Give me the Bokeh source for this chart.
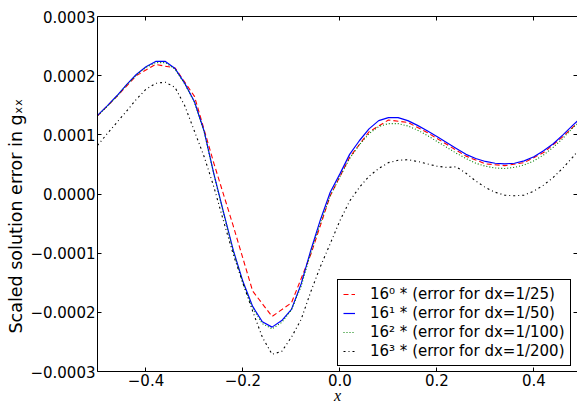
import numpy as np
from bokeh.plotting import figure
from bokeh.models import (LinearAxis, FixedTicker, CustomJSTickFormatter, Legend,
                          LegendItem, Range1d, Title)
from bokeh.embed import file_html
from bokeh.resources import INLINE

# ---------------- data (errors in units of 1e-4) ----------------
UNIT = 1e-4

x_coarse = [-0.50, -0.46, -0.42, -0.38, -0.34, -0.30, -0.26, -0.22, -0.18, -0.14,
            -0.10, -0.06, -0.02, 0.02, 0.06, 0.10, 0.14, 0.18, 0.22, 0.26,
            0.30, 0.34, 0.38, 0.42, 0.46, 0.50]

x_fine = [-0.50, -0.48, -0.46, -0.44, -0.42, -0.40, -0.38, -0.36, -0.34, -0.32,
          -0.30, -0.28, -0.26, -0.24, -0.22, -0.20, -0.18, -0.16, -0.14, -0.12,
          -0.10, -0.08, -0.06, -0.04, -0.02, 0.00, 0.02, 0.04, 0.06, 0.08,
          0.10, 0.12, 0.14, 0.16, 0.18, 0.20, 0.22, 0.24, 0.26, 0.28,
          0.30, 0.32, 0.34, 0.36, 0.38, 0.40, 0.42, 0.44, 0.46, 0.48, 0.50]

err_dx25 = [1.32, 1.65, 2.00, 2.19, 2.13, 1.65, 0.52, -0.54, -1.64, -2.07,
            -1.84, -1.02, -0.03, 0.62, 1.05, 1.25, 1.21, 1.04, 0.84, 0.64,
            0.51, 0.48, 0.53, 0.70, 0.97, 1.28]

err_dx50 = [1.33, 1.49, 1.66, 1.85, 2.02, 2.15, 2.24, 2.24, 2.12, 1.87,
            1.56, 1.06, 0.34, -0.31, -0.95, -1.48, -1.90, -2.16, -2.25, -2.14,
            -1.95, -1.52, -0.95, -0.43, 0.03, 0.34, 0.67, 0.90, 1.10, 1.24,
            1.29, 1.29, 1.24, 1.16, 1.07, 0.97, 0.87, 0.77, 0.67, 0.60,
            0.55, 0.52, 0.51, 0.52, 0.56, 0.63, 0.73, 0.85, 1.00, 1.16, 1.31]

err_dx100 = [1.32, 1.48, 1.65, 1.84, 2.01, 2.14, 2.22, 2.22, 2.11, 1.86,
             1.55, 1.05, 0.33, -0.33, -0.97, -1.51, -1.93, -2.19, -2.28, -2.17,
             -1.96, -1.56, -0.99, -0.48, -0.03, 0.29, 0.60, 0.83, 1.02, 1.14,
             1.19, 1.19, 1.15, 1.08, 0.99, 0.89, 0.79, 0.69, 0.60, 0.52,
             0.47, 0.44, 0.43, 0.45, 0.49, 0.56, 0.66, 0.79, 0.94, 1.12, 1.25]

err_dx200 = [0.82, 1.02, 1.21, 1.40, 1.60, 1.77, 1.87, 1.89, 1.80, 1.49,
             1.06, 0.63, 0.12, -0.46, -1.02, -1.51, -1.98, -2.42, -2.71, -2.66,
             -2.42, -2.12, -1.65, -1.22, -0.84, -0.45, -0.12, 0.11, 0.30, 0.43,
             0.53, 0.57, 0.58, 0.55, 0.51, 0.47, 0.45, 0.46, 0.35, 0.22,
             0.11, 0.03, -0.02, -0.03, -0.02, 0.05, 0.15, 0.28, 0.44, 0.62, 0.82]

labels = ["16\u2070 * (error for dx=1/25)",
          "16\u00b9 * (error for dx=1/50)",
          "16\u00b2 * (error for dx=1/100)",
          "16\u00b3 * (error for dx=1/200)"]

x_ticks = [-0.4, -0.2, 0.0, 0.2, 0.4]
y_ticks = [-0.0003, -0.0002, -0.0001, 0.0, 0.0001, 0.0002, 0.0003]

y_title = "Scaled solution error in g\u2093\u2093"
x_title = "x"

FONT = "DejaVu Sans"
FS = "15px"

p = figure(width=577, height=406, output_backend="svg", toolbar_location=None,
           x_range=Range1d(-0.5, 0.49), y_range=Range1d(-3e-4, 3e-4),
           min_border_left=97, min_border_right=0, min_border_top=16,
           min_border_bottom=30)
p.grid.visible = False
p.outline_line_color = None
p.background_fill_color = "white"
p.border_fill_color = "white"

fmt_x = CustomJSTickFormatter(code="return (tick < -1e-9 ? '\\u2212' : '') + Math.abs(tick).toFixed(1);")
fmt_y = CustomJSTickFormatter(code="return (tick < -1e-12 ? '\\u2212' : '') + Math.abs(tick).toFixed(4);")
fmt_none = CustomJSTickFormatter(code="return '';")

def style_axis(ax, show_labels):
    ax.axis_line_color = "black"
    ax.axis_line_width = 1
    ax.major_tick_in = 4
    ax.major_tick_out = 0
    ax.major_tick_line_color = "black"
    ax.minor_tick_line_color = None
    ax.major_label_text_font = FONT
    ax.major_label_text_color = "black"
    if show_labels:
        ax.major_label_text_font_size = FS
    else:
        ax.formatter = fmt_none
        ax.major_label_text_font_size = "1px"
        ax.major_label_standoff = 0

xb = p.xaxis[0]
xb.ticker = FixedTicker(ticks=x_ticks)
xb.formatter = fmt_x
style_axis(xb, True)
xb.major_label_standoff = 2
xb.axis_label = x_title
xb.axis_label_text_font = "Liberation Serif"
xb.axis_label_text_font_style = "italic"
xb.axis_label_text_font_size = "16px"
xb.axis_label_text_color = "black"
xb.axis_label_standoff = -2

yl = p.yaxis[0]
yl.ticker = FixedTicker(ticks=y_ticks)
yl.formatter = fmt_y
style_axis(yl, True)
yl.major_label_standoff = 2

xt = LinearAxis(ticker=FixedTicker(ticks=x_ticks))
style_axis(xt, False)
p.add_layout(xt, "above")

yr = LinearAxis(ticker=FixedTicker(ticks=y_ticks))
style_axis(yr, False)
yr.axis_line_color = None
p.add_layout(yr, "right")

ytitle = Title(text=y_title, align="left", offset=38, standoff=4,
               text_font=FONT, text_font_size="17.5px", text_font_style="normal",
               text_color="black")
p.add_layout(ytitle, "left")

xf = np.array(x_fine)
xc = np.array(x_coarse)
r1 = p.line(xc, np.array(err_dx25) * UNIT, line_color="#ff0000", line_width=1.1, line_dash="5 3")
r2 = p.line(xf, np.array(err_dx50) * UNIT, line_color="#0000ff", line_width=1.2)
r3 = p.line(xf, np.array(err_dx100) * UNIT, line_color="#008000", line_width=1.1, line_dash="1 2")
r4 = p.line(xf, np.array(err_dx200) * UNIT, line_color="#000000", line_width=1.1, line_dash="2 3 1 3")

legend = Legend(items=[LegendItem(label=labels[0], renderers=[r1]),
                       LegendItem(label=labels[1], renderers=[r2]),
                       LegendItem(label=labels[2], renderers=[r3]),
                       LegendItem(label=labels[3], renderers=[r4])],
                location=(240, 5))
legend.label_text_font = FONT
legend.label_text_font_size = FS
legend.label_text_color = "black"
legend.glyph_width = 12
legend.glyph_height = 18
legend.label_height = 18
legend.label_standoff = 15
legend.spacing = 1
legend.padding = 5
legend.margin = 0
legend.border_line_color = "black"
legend.border_line_width = 1
legend.border_line_alpha = 1
legend.background_fill_color = "white"
legend.background_fill_alpha = 1
p.add_layout(legend, "center")

open("out.html", "w").write(file_html(p, INLINE))
